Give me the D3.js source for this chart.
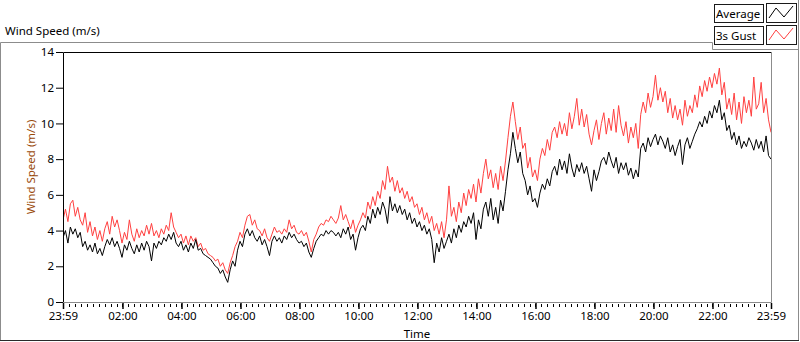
<!DOCTYPE html>
<html>
<head>
<meta charset="utf-8">
<script src="https://cdn.jsdelivr.net/npm/d3@7/dist/d3.min.js"></script>
<style>
  html, body { margin: 0; padding: 0; background: #fff; }
  svg { display: block; font-family: "Noto Sans", sans-serif; font-size: 11.5px; }
</style>
</head>
<body>
<div id="root"></div>
<script>
// Minutes since midnight of the first sample (23:59 the day before), one sample every 5 min.
const startMinute = -1;
const sampleStep = 5;

// Average wind speed (m/s).
const avgSpeed = [
  3.6, 4.0, 3.3, 4.2,  3.8, 4.1, 3.6, 3.9,  3.1, 3.4, 2.9, 3.2,  2.8, 3.3, 2.7, 3.0,
  2.6, 3.1, 3.5, 3.2,  3.6, 3.1, 3.4, 3.0,  2.5, 3.2, 2.9, 3.4,  3.0, 2.7, 3.2, 2.8,
  3.3, 2.9, 3.4, 3.1,  2.3, 3.3, 3.0, 3.4,  3.2, 3.6, 3.4, 3.8,  3.5, 3.9, 3.3, 3.1,
  3.4, 2.9, 3.2, 2.8,  3.3, 3.0, 3.5, 2.9,  3.0, 2.7, 2.6, 2.5,  2.4, 2.2, 2.0, 1.9,
  1.6, 1.8, 1.4, 1.1,  1.8, 2.3, 2.0, 2.9,  3.4, 3.1, 3.8, 4.1,  3.7, 4.0, 3.6, 3.4,
  3.7, 3.2, 3.5, 3.1,  2.6, 3.4, 3.7, 3.4,  3.6, 3.3, 3.7, 3.5,  3.9, 3.6, 3.8, 3.5,
  3.3, 3.4, 3.1, 3.3,  2.8, 2.5, 3.0, 3.4,  3.6, 3.8, 3.7, 4.0,  3.8, 4.0, 3.9, 3.7,
  3.9, 3.6, 4.1, 3.8,  4.2, 3.5, 3.8, 2.9,  3.6, 4.1, 4.3, 4.0,  4.8, 4.4, 5.2, 4.7,
  5.3, 4.9, 5.6, 5.2,  4.4, 5.9, 5.1, 5.5,  5.0, 5.4, 4.9, 5.2,  4.6, 5.0, 4.4, 4.7,
  4.2, 4.5, 4.0, 4.3,  3.8, 4.1, 3.5, 2.2,  3.3, 2.8, 3.6, 3.0,  3.4, 3.8, 3.3, 4.1,
  3.6, 4.3, 3.9, 4.5,  4.2, 4.8, 4.4, 5.0,  3.5, 4.6, 4.1, 5.2,  5.6, 4.8, 5.8, 4.6,
  5.3, 4.4, 5.7, 5.1,  6.2, 7.4, 8.3, 9.5,  8.6, 7.8, 8.4, 7.2,  6.8, 6.0, 6.5, 5.6,
  5.8, 5.3, 6.1, 6.6,  6.3, 6.9, 6.5, 7.3,  7.6, 7.1, 8.0, 7.4,  7.9, 7.2, 8.3, 7.5,
  7.0, 7.7, 7.3, 7.8,  7.2, 7.6, 6.9, 6.2,  7.4, 6.8, 7.3, 7.9,  8.1, 7.7, 8.4, 7.9,
  7.5, 8.1, 7.2, 7.8,  7.4, 7.8, 7.1, 7.5,  6.9, 7.4, 7.0, 8.6,  8.9, 8.4, 9.2, 8.7,
  9.1, 9.4, 8.8, 9.3,  9.0, 8.6, 9.2, 8.4,  8.8, 8.2, 8.7, 9.1,  7.7, 8.8, 9.2, 8.6,
  9.0, 9.4, 9.7, 10.1, 9.8, 10.4, 10.0, 10.7, 10.3, 11.0, 10.6, 11.3, 10.2, 10.6, 9.6, 9.9,
  9.1, 9.5, 8.8, 9.3,  8.6, 9.0, 8.7, 9.2,  8.9, 8.5, 9.1, 8.6,  9.0, 8.4, 9.3, 8.2,
  8.0
];

// 3 s gust wind speed (m/s).
const gustSpeed = [
  4.6, 5.2, 4.5, 5.5,  5.7, 4.8, 5.3, 4.6,  4.3, 5.0, 3.9, 4.5,  3.7, 4.2, 3.5, 4.0,
  3.4, 4.1, 4.5, 3.8,  4.8, 4.2, 4.6, 4.0,  3.3, 3.9, 3.5, 4.6,  3.8, 3.4, 4.1, 3.6,
  4.0, 3.7, 4.3, 3.8,  4.4, 3.7, 4.0, 3.6,  4.1, 3.8, 4.3, 4.0,  5.0, 4.2, 3.9, 3.6,
  3.8, 3.3, 3.7, 3.2,  3.7, 3.4, 3.6, 3.1,  3.3, 2.9, 3.0, 2.7,  2.6, 2.5, 2.3, 2.4,
  2.0, 2.2, 1.8, 1.6,  2.2, 2.6, 3.1, 3.4,  3.9, 3.6, 4.3, 4.8,  4.9, 4.3, 4.6, 4.1,
  4.0, 3.7, 4.1, 3.6,  3.4, 3.8, 4.2, 3.9,  4.0, 3.8, 4.1, 3.9,  4.6, 4.1, 4.3, 3.9,
  3.8, 4.0, 3.7, 3.9,  3.4, 2.8, 3.5, 3.8,  4.2, 4.4, 4.3, 4.6,  4.5, 4.8, 4.6, 4.4,
  4.7, 5.4, 4.6, 4.9,  4.5, 4.1, 4.6, 3.9,  4.3, 4.6, 5.0, 4.7,  5.6, 5.2, 5.9, 5.4,
  6.2, 5.8, 6.8, 6.3,  7.6, 6.7, 7.0, 6.2,  6.8, 6.1, 6.4, 5.8,  6.2, 5.6, 5.9, 5.3,
  5.5, 4.9, 5.3, 4.6,  5.0, 4.4, 4.8, 4.0,  4.4, 3.8, 4.5, 3.6,  4.6, 6.5, 4.8, 5.3,
  4.5, 5.6, 5.0, 6.1,  5.4, 6.3, 5.8, 6.6,  5.6, 6.9, 6.1, 7.2,  8.0, 6.9, 7.4, 6.4,
  7.2, 6.3, 7.6, 6.8,  7.9, 9.2, 10.4, 11.2, 10.1, 9.1, 9.8, 8.6, 8.9, 7.5, 8.1, 7.0,
  7.4, 6.8, 8.0, 8.6,  8.2, 9.1, 8.5, 9.5,  9.8, 9.2, 10.1, 9.4, 10.0, 9.3, 10.6, 9.7,
  10.4, 11.4, 9.9, 10.8, 9.8, 10.5, 9.4, 8.8, 9.6, 10.2, 9.1, 10.0, 10.6, 9.4, 10.3, 9.6,
  10.8, 9.5, 11.0, 9.9, 9.3, 10.1, 8.9, 9.8, 9.2, 10.0, 8.6, 10.5, 11.2, 10.6, 11.7, 10.9,
  11.5, 12.7, 11.3, 12.0, 11.2, 11.8, 10.6, 11.4, 10.3, 11.0, 10.2, 10.8, 9.9, 11.3, 10.4, 11.0,
  10.6, 11.6, 10.9, 12.1, 11.5, 12.4, 11.8, 12.6, 12.0, 12.8, 12.2, 13.1, 11.6, 12.3, 10.8, 11.4,
  10.5, 11.7, 10.2, 11.2, 10.0, 11.5, 10.6, 11.3, 10.4, 12.6, 10.8, 11.1, 12.3, 10.6, 11.4, 10.2,
  9.5
];

// Axis ticks.
const yTicks = [0, 2, 4, 6, 8, 10, 12, 14];
const xTickMinutes = [-1, 120, 240, 360, 480, 600, 720, 840, 960, 1080, 1200, 1320, 1439];
const xTickLabels = ["23:59", "02:00", "04:00", "06:00", "08:00", "10:00", "12:00",
                     "14:00", "16:00", "18:00", "20:00", "22:00", "23:59"];
const minorStep = 12;

const seriesNames = ["Average", "3s Gust"];
const seriesColors = ["#000000", "#ff4040"];

const width = 800;
const height = 342;
const plot = { left: 63, right: 771, top: 52, bottom: 302 };

const svg = d3.select("#root")
  .append("svg")
    .attr("width", width)
    .attr("height", height);

const xScale = d3.scaleLinear()
  .domain([-1, 1439])
  .range([plot.left, plot.right]);

const yScale = d3.scaleLinear()
  .domain([0, 14])
  .range([plot.bottom, plot.top]);

// Outer frame of the graph (grey, LabVIEW style) and legend notch.
const frame = svg.append("g")
  .attr("fill", "none")
  .attr("stroke", "#8c8c8c")
  .attr("stroke-width", 1);
frame.append("path")
  .attr("d", "M0.5,341 V42.5 H712.5 V49.5 H798.5");
frame.append("path")
  .attr("d", "M798.5,0 V341");
frame.append("path")
  .attr("d", "M0,340.5 H799")
  .attr("stroke", "#2a2a2a");

// Plot area border.
svg.append("path")
  .attr("d", `M${plot.left + 0.5},${plot.bottom} V${plot.top + 0.5} H${plot.right + 0.5}`)
  .attr("fill", "none")
  .attr("stroke", "#000");
svg.append("path")
  .attr("d", `M${plot.left},${plot.bottom + 0.5} H${plot.right + 0.5} V${plot.top}`)
  .attr("fill", "none")
  .attr("stroke", "#8c8c8c");

// Lines.
svg.append("defs")
  .append("clipPath")
    .attr("id", "plotClip")
  .append("rect")
    .attr("x", plot.left + 1)
    .attr("y", plot.top + 1)
    .attr("width", plot.right - plot.left - 1)
    .attr("height", plot.bottom - plot.top - 1);

const lineCreator = d3.line()
  .x((d, i) => xScale(startMinute + i * sampleStep))
  .y(d => yScale(d));

svg.append("g")
  .attr("clip-path", "url(#plotClip)")
  .selectAll("path")
  .data([gustSpeed, avgSpeed])
  .enter()
  .append("path")
    .attr("d", d => lineCreator(d))
    .attr("fill", "none")
    .attr("stroke-width", 1)
    .attr("stroke", (d, i) => i === 0 ? seriesColors[1] : seriesColors[0]);

// Y axis.
const yAxis = svg.append("g")
  .attr("transform", `translate(${plot.left},0)`)
  .call(d3.axisLeft(yScale).tickValues(yTicks).tickSize(7).tickPadding(2).tickFormat(d3.format("d")));
yAxis.select(".domain").remove();
yAxis.selectAll("text")
  .attr("fill", "#000")
  .style("font-size", "11.5px")
  .style("font-family", "'Noto Sans', sans-serif");

// X axis: minor ticks then major ticks with labels.
const minorTicks = d3.range(0, 1440, minorStep);
svg.append("g")
  .selectAll("line")
  .data(minorTicks)
  .enter()
  .append("line")
    .attr("x1", d => Math.round(xScale(d)) + 0.5)
    .attr("x2", d => Math.round(xScale(d)) + 0.5)
    .attr("y1", plot.bottom + 2)
    .attr("y2", plot.bottom + 5)
    .attr("stroke", "#000");

const xAxis = svg.append("g")
  .attr("transform", `translate(0,${plot.bottom + 1})`)
  .call(d3.axisBottom(xScale).tickValues(xTickMinutes).tickSize(6).tickPadding(3)
    .tickFormat((d, i) => xTickLabels[i]));
xAxis.select(".domain").remove();
xAxis.selectAll("line").attr("stroke-width", 1.5);
xAxis.selectAll("text")
  .attr("fill", "#000")
  .style("font-size", "11.5px")
  .style("font-family", "'Noto Sans', sans-serif");

// Titles.
svg.append("text")
  .text("Wind Speed (m/s)")
  .attr("x", 5)
  .attr("y", 35);
svg.append("text")
  .text("Time")
  .attr("transform", `translate(417, 338)`)
  .attr("text-anchor", "middle");
svg.append("text")
  .text("Wind Speed (m/s)")
  .attr("transform", `translate(35, 167)rotate(-90)`)
  .attr("text-anchor", "middle")
  .attr("fill", "#9a4a0a");

// Legend.
const legend = svg.append("g")
  .selectAll("g")
  .data(seriesNames)
  .enter()
  .append("g")
    .attr("transform", (d, i) => `translate(0, ${i * 22})`);
legend.append("rect")
  .attr("x", 714.5).attr("y", 4.5)
  .attr("width", 49).attr("height", 18)
  .attr("fill", "#fff")
  .attr("stroke", "#1a1a1a");
legend.append("text")
  .text(d => d)
  .attr("x", 716)
  .attr("y", 18);
legend.append("rect")
  .attr("x", 766.5).attr("y", 3.5)
  .attr("width", 30).attr("height", 19)
  .attr("fill", "#fff")
  .attr("stroke", "#1a1a1a");
legend.append("path")
  .attr("d", "M769,18 L776,8 L784,17 L793,6")
  .attr("fill", "none")
  .attr("stroke", (d, i) => seriesColors[i]);
</script>
</body>
</html>
